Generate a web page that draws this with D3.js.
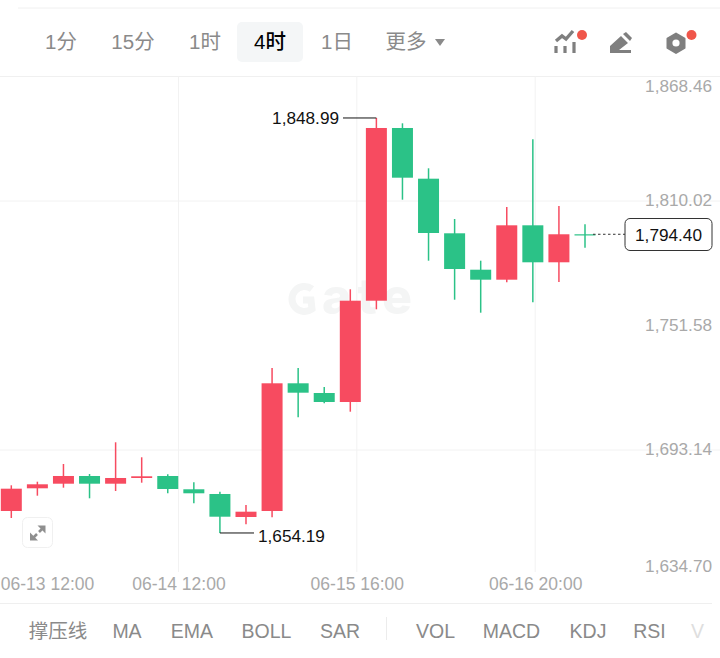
<!DOCTYPE html>
<html><head><meta charset="utf-8">
<script src="https://cdnjs.cloudflare.com/ajax/libs/d3/7.8.5/d3.min.js"></script>
<style>html,body{margin:0;padding:0;background:#fff}svg{display:block}</style></head>
<body><div id="c"></div>
<script>
const opens  = [1664.51,1675.16,1677.32,1680.94,1677.32,1680.00,1680.94,1674.70,1672.49,1661.69,1664.51,1724.45,1719.90,1715.67,1763.22,1844.29,1820.49,1794.86,1777.77,1773.08,1798.61,1781.25,1794.40];
const closes = [1674.98,1677.04,1680.94,1677.32,1680.00,1680.80,1674.84,1672.82,1661.83,1664.18,1724.45,1720.04,1715.67,1763.22,1844.29,1820.96,1795.00,1778.10,1773.08,1798.61,1781.25,1794.40,1794.40];
const highs  = [1676.57,1678.26,1686.57,1681.88,1696.76,1689.72,1681.74,1677.98,1673.57,1667.33,1731.63,1731.63,1722.71,1768.57,1848.99,1846.49,1825.37,1801.57,1782.00,1807.20,1838.98,1807.67,1799.08];
const lows   = [1661.22,1671.69,1675.45,1670.47,1673.90,1677.79,1672.82,1668.12,1654.19,1658.27,1661.55,1708.49,1715.06,1711.12,1759.19,1810.63,1782.00,1763.69,1757.59,1771.86,1762.47,1772.00,1788.10];
const priceTicks = [1868.46,1810.02,1751.58,1693.14,1634.70];
const gridPrices = [1810.02,1693.14];
const timeLabels = ["06-13 12:00","06-14 12:00","06-15 16:00","06-16 20:00"];
const timeIndex  = [1.37,6.41,13.25,20.09];
const gridTimeIndex = [6.41,13.25,20.09];
const tabs = ["1分","15分","1时","4时","1日","更多"];
const indicators = ["撑压线","MA","EMA","BOLL","SAR","VOL","MACD","KDJ","RSI","V"];
const lastPrice = 1794.40, peak = 1848.99, trough = 1654.19;

const W=720,H=658, UP="#f74b60", DOWN="#2bc287";
const FONT='"Liberation Sans", "Noto Sans CJK SC", sans-serif';
const NUM=17.2;
const svg=d3.select("#c").append("svg").attr("width",W).attr("height",H).style("font-family",FONT);
const x=d3.scaleLinear().domain([0,22]).range([11.3,585]);
const y=d3.scaleLinear().domain([1634.70,1868.46]).range([574.5,76.5]);

// frame lines
const rule=(x1,x2,yy,c)=>svg.append("line").attr("x1",x1).attr("x2",x2).attr("y1",yy).attr("y2",yy).attr("stroke",c);
rule(18,720,8,"#f0f0f0"); rule(0,720,76.5,"#f0f0f0"); rule(0,712,603.5,"#efefef");

// tabs
const tabX=[61,133,205,270,337,406];
svg.append("rect").attr("x",237).attr("y",22).attr("width",66).attr("height",40).attr("rx",5).attr("fill","#f4f6f7");
svg.append("g").selectAll("text").data(tabs).join("text")
  .attr("x",(d,i)=>tabX[i]).attr("y",48.5).attr("text-anchor","middle").attr("font-size",20.5)
  .attr("font-weight",(d,i)=>i==3?500:400).attr("fill",(d,i)=>i==3?"#000":"#8a8a8a").text(d=>d);
svg.append("path").attr("d","M435 39h10l-5 7z").attr("fill","#8a8a8a");

// header icons
const ic=svg.append("g").attr("fill","#7f7f7f");
ic.append("path").attr("d","M556 41l6-5 4 3 7-8").attr("fill","none").attr("stroke","#7f7f7f").attr("stroke-width",3.4);
[[556,46],[565,46],[574,42]].forEach(p=>ic.append("rect").attr("x",p[0]-1.6).attr("y",p[1]).attr("width",3.2).attr("height",53-p[1]));
ic.append("path").attr("d","M610 53v-7l11-10 7 7-9 7h12v3z");
ic.append("path").attr("d","M623 34l3-2 6 6-2 3z");
ic.append("path").attr("stroke","#7f7f7f").attr("stroke-width",2).attr("stroke-linejoin","round")
  .attr("d","M676 33.500l8.500 5v9.500l-8.500 5-8.500-5v-9.500z");
svg.append("circle").attr("cx",676).attr("cy",43).attr("r",3.6).attr("fill","#fff");
svg.append("circle").attr("cx",582).attr("cy",35).attr("r",5).attr("fill","#f0564a");
svg.append("circle").attr("cx",691.500).attr("cy",35).attr("r",5).attr("fill","#f0564a");

// grid
svg.append("g").selectAll("line").data(gridPrices).join("line")
  .attr("x1",0).attr("x2",W).attr("y1",d=>y(d)).attr("y2",d=>y(d)).attr("stroke","#f2f2f2");
svg.append("g").selectAll("line").data(gridTimeIndex).join("line")
  .attr("x1",d=>x(d)).attr("x2",d=>x(d)).attr("y1",76.5).attr("y2",572).attr("stroke","#f2f2f2");

// watermark
const wm=svg.append("g").attr("fill","none").attr("stroke","#f4f5f5");
wm.append("path").attr("d","M312 289a12.500 12.500 0 1 0 0 20l-1-9h-8").attr("stroke-width",7);
svg.append("text").attr("x",322).attr("y",314).attr("font-family","Inter").attr("font-size",50).attr("font-weight",800).attr("letter-spacing",6).attr("fill","#f4f5f5").text("ate");

// price axis
const yAxis=d3.axisLeft(y).tickValues(priceTicks).tickSize(0).tickPadding(0).tickFormat(d3.format(",.2f"));
const ya=svg.append("g").attr("transform","translate(712,0)").call(yAxis);
ya.select(".domain").remove();
ya.selectAll("text").attr("font-size",NUM).attr("font-family",FONT).attr("fill","#a9a9a9")
  .attr("dy",(d,i)=>i==0?"0.88em":i==4?"-0.2em":"0.27em").attr("text-anchor","end");

// time axis
const xAxis=d3.axisBottom(x).tickValues(timeIndex).tickSize(0).tickPadding(0).tickFormat((d,i)=>timeLabels[i]);
const xa=svg.append("g").attr("transform","translate(0,585)").call(xAxis);
xa.select(".domain").remove();
xa.selectAll("text").attr("font-size",17.5).attr("font-family",FONT).attr("fill","#a9a9a9").attr("dy","0.3em");

// candles
const idx=d3.range(opens.length);
const col=i=>closes[i]>opens[i]?UP:DOWN;
const g=svg.append("g");
g.selectAll("line").data(idx).join("line")
  .attr("x1",i=>x(i)).attr("x2",i=>x(i)).attr("y1",i=>y(highs[i])).attr("y2",i=>y(lows[i])).attr("stroke",col).attr("stroke-width",1.5);
g.selectAll("rect").data(idx).join("rect")
  .attr("x",i=>x(i)-10.5).attr("width",21)
  .attr("y",i=>y(Math.max(opens[i],closes[i])))
  .attr("height",i=>Math.max(1.2,Math.abs(y(opens[i])-y(closes[i]))))
  .attr("fill",col);

// callouts
const nf=d3.format(",.2f");
svg.append("path").attr("d",`M343 ${y(peak)}H${x(14)}`).attr("stroke","#111").attr("fill","none");
svg.append("text").attr("x",339).attr("y",y(peak)+6).attr("text-anchor","end").attr("font-size",NUM).attr("fill","#111").text(nf(peak));
svg.append("path").attr("d",`M${x(8)} ${y(trough)}H254`).attr("stroke","#111").attr("fill","none");
svg.append("text").attr("x",258).attr("y",y(trough)+9).attr("font-size",NUM).attr("fill","#111").text(nf(trough));

// last price
svg.append("line").attr("x1",593).attr("x2",625).attr("y1",y(lastPrice)).attr("y2",y(lastPrice)).attr("stroke","#333").attr("stroke-dasharray","2.500 2.500");
svg.append("rect").attr("x",625).attr("y",218.500).attr("width",87).attr("height",32).attr("rx",5).attr("fill","#fff").attr("stroke","#333");
svg.append("text").attr("x",668.500).attr("y",241).attr("text-anchor","middle").attr("font-size",NUM).attr("fill","#111").text(nf(lastPrice));

// expand button
svg.append("rect").attr("x",22.500).attr("y",517.500).attr("width",30).attr("height",30).attr("rx",5).attr("fill","#fff").attr("stroke","#f0f0f0");
svg.append("path").attr("d","M39 532l5-5M32 539l5-5").attr("fill","none").attr("stroke","#8f8f8f").attr("stroke-width",2.6);
svg.append("path").attr("d","M37.500 525.500h8v8zM30 532.500v8h8z").attr("fill","#8f8f8f");

// indicators
const indX=[58,127,192,266.500,340,435.500,511.500,588,649.500,697.500];
svg.append("g").selectAll("text").data(indicators).join("text")
  .attr("x",(d,i)=>indX[i]).attr("y",638).attr("text-anchor","middle").attr("font-size",19.5)
  .attr("fill",(d,i)=>i==9?"#dedede":"#8a8a8a").text(d=>d);
svg.append("line").attr("x1",386.500).attr("x2",386.500).attr("y1",617).attr("y2",640).attr("stroke","#ececec");
</script></body></html>
